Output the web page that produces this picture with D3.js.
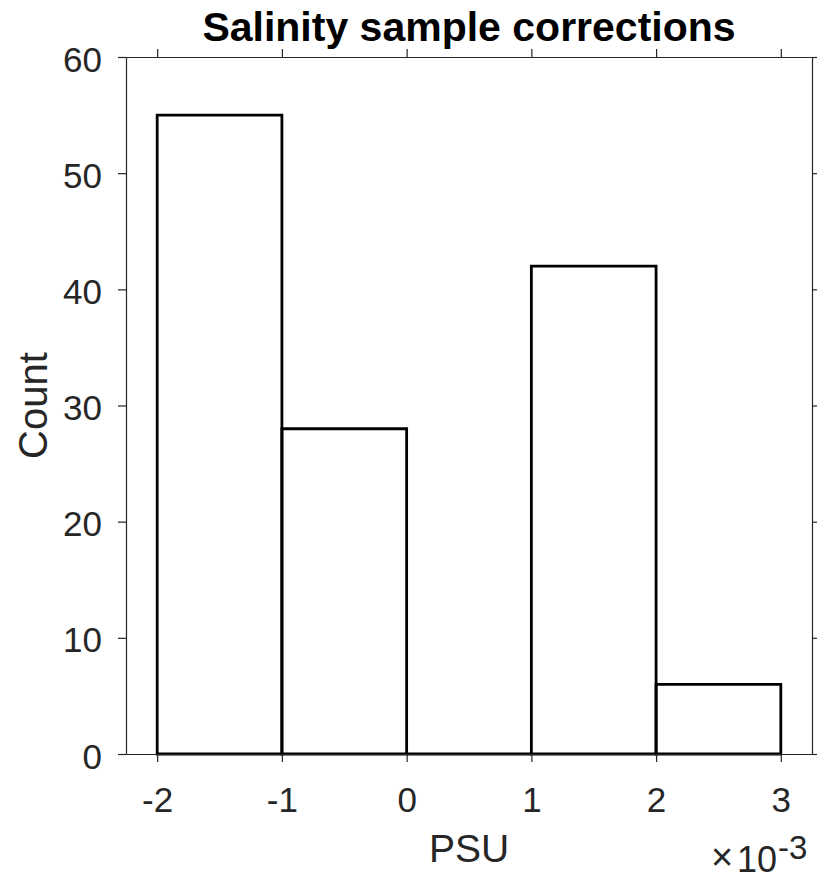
<!DOCTYPE html>
<html>
<head>
<meta charset="utf-8">
<script src="https://cdn.jsdelivr.net/npm/d3@7"></script>
<style>
  body { margin: 0; background: #fff; }
  svg { font-family: "Liberation Sans", Arial, Helvetica, sans-serif; }
</style>
</head>
<body>
<div id="chart-area"></div>
<script>
// histogram bins (x in units of 1e-3 PSU)
var binEdges = [-2, -1, 0, 1, 2, 3];
var counts = [55, 28, 0, 42, 6];
var xTicks = [-2, -1, 0, 1, 2, 3];
var yTicks = [0, 10, 20, 30, 40, 50, 60];

var width = 817, height = 882;
var margin = {top: 57, right: 5, bottom: 128, left: 126};
var axColor = "#262626";

var svg = d3.select("#chart-area")
    .append("svg")
        .attr("width", width)
        .attr("height", height);

var x = d3.scaleLinear().domain([-2.25, 3.25]).range([margin.left, width - margin.right]);
var y = d3.scaleLinear().domain([0, 60]).range([height - margin.bottom, margin.top]);

var bins = counts.map(function(c, i) {
    return {x0: binEdges[i], x1: binEdges[i + 1], count: c};
});

// bars as outlines so an empty bin still shows its base line
svg.append("g").selectAll("path")
    .data(bins)
    .enter().append("path")
        .attr("d", function(d) {
            return "M" + x(d.x0) + "," + y(0) + "V" + y(d.count) + "H" + x(d.x1) + "V" + y(0) + "Z";
        })
        .attr("fill", "none")
        .attr("stroke", "#000")
        .attr("stroke-width", 2.8);

// axes, ticks outward on all four sides
function styleAxis(g) {
    g.select(".domain").attr("stroke", axColor).attr("stroke-width", 1.2);
    g.selectAll(".tick line").attr("stroke", axColor).attr("stroke-width", 1.2);
    g.selectAll(".tick text").attr("fill", axColor).attr("font-size", "35px")
        .attr("font-family", "Liberation Sans, Arial, sans-serif");
}

var fmt = function(d) { return String(d); };

svg.append("g")
    .attr("transform", "translate(0," + y(0) + ")")
    .call(d3.axisBottom(x).tickValues(xTicks).tickSize(8).tickSizeOuter(0).tickFormat(fmt))
    .call(styleAxis)
    .selectAll(".tick text").attr("y", 58).attr("dy", 0);

svg.append("g")
    .attr("transform", "translate(0," + y(60) + ")")
    .call(d3.axisTop(x).tickValues(xTicks).tickSize(8).tickSizeOuter(0).tickFormat(""))
    .call(styleAxis);

svg.append("g")
    .attr("transform", "translate(" + x(-2.25) + ",0)")
    .call(d3.axisLeft(y).tickValues(yTicks).tickSize(8).tickSizeOuter(0).tickPadding(16).tickFormat(fmt))
    .call(styleAxis)
    .selectAll(".tick text").attr("dy", "0.4em");

svg.append("g")
    .attr("transform", "translate(" + x(3.25) + ",0)")
    .call(d3.axisRight(y).tickValues(yTicks).tickSize(8).tickSizeOuter(0).tickFormat(""))
    .call(styleAxis);

// labels
var cx = (x(-2.25) + x(3.25)) / 2;

svg.append("text")
    .attr("x", cx)
    .attr("y", 41)
    .attr("text-anchor", "middle")
    .attr("font-size", "41px")
    .attr("font-weight", "bold")
    .attr("fill", "#000")
    .text("Salinity sample corrections");

svg.append("text")
    .attr("x", cx)
    .attr("y", 862)
    .attr("text-anchor", "middle")
    .attr("font-size", "39px")
    .attr("fill", axColor)
    .text("PSU");

svg.append("text")
    .attr("transform", "translate(47," + ((y(0) + y(60)) / 2) + ") rotate(-90)")
    .attr("text-anchor", "middle")
    .attr("font-size", "40px")
    .attr("fill", axColor)
    .text("Count");

// exponent multiplier
svg.append("text")
    .attr("x", 711).attr("y", 870)
    .attr("font-size", "38px")
    .attr("fill", axColor)
    .text("\u00d7");
svg.append("text")
    .attr("x", 737).attr("y", 872)
    .attr("font-size", "36px")
    .attr("fill", axColor)
    .text("10");
svg.append("text")
    .attr("x", 778).attr("y", 859)
    .attr("font-size", "33px")
    .attr("fill", axColor)
    .text("-3");
</script>
</body>
</html>
